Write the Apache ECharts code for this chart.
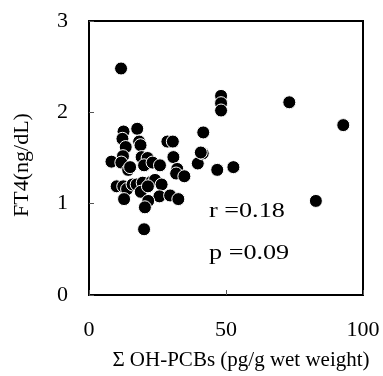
<!DOCTYPE html>
<html>
<head>
<meta charset="utf-8">
<script src="https://cdn.jsdelivr.net/npm/echarts@6/dist/echarts.min.js"></script>
<style>html,body{margin:0;padding:0;background:#fff}#c{width:383px;height:376px}</style>
</head>
<body>
<div id="c"></div>
<script>
const xValues = [11.7,12.6,17.6,12.2,13.4,18.3,18.8,28.6,30.6,41.7,8.2,12.4,11.8,14.3,19.2,21.4,20.1,23.2,25.9,30.8,32.2,31.8,34.8,39.7,41.5,40.8,10.1,12.5,13.9,15.9,17.4,19.6,18.9,22.8,24.1,26.5,25.7,29.6,32.6,12.8,21.6,20.4,20.1,48.2,48.2,48.2,73.1,92.8,46.8,52.7,82.8,15.0,21.5];
const yValues = [2.48,1.79,1.82,1.71,1.62,1.68,1.64,1.68,1.68,1.78,1.46,1.52,1.45,1.37,1.51,1.50,1.42,1.45,1.42,1.51,1.38,1.33,1.30,1.44,1.55,1.56,1.19,1.19,1.16,1.21,1.21,1.23,1.13,1.24,1.26,1.21,1.08,1.09,1.05,1.05,1.03,0.96,0.72,2.18,2.10,2.02,2.11,1.86,1.37,1.40,1.03,1.40,1.19];
const xTicks = [0, 50, 100];
const yTicks = [0, 1, 2, 3];
const xTitle = 'Σ OH-PCBs (pg/g wet weight)';
const yTitle = 'FT4(ng/dL)';
const statLines = ['r =0.18', 'p =0.09'];

const font = '"Liberation Serif", "Times New Roman", serif';
const points = xValues.map((x, i) => [x, yValues[i]]);
const chart = echarts.init(document.getElementById('c'));
chart.setOption({
  animation: false,
  grid: {left: 89, right: 20, top: 21, bottom: 79, show: true, borderColor: '#000', borderWidth: 2, backgroundColor: 'transparent'},
  xAxis: {
    type: 'value', min: xTicks[0], max: xTicks[xTicks.length - 1], interval: 50,
    axisLine: {show: false},
    axisTick: {show: true, inside: true, length: 5, lineStyle: {color: '#555', width: 1}},
    splitLine: {show: false},
    axisLabel: {margin: 24, fontFamily: font, fontSize: 22, color: '#000'},
    name: xTitle, nameLocation: 'middle', nameGap: 55,
    nameTextStyle: {fontFamily: font, fontSize: 21, color: '#000', padding: [0, 0, 0, 30]}
  },
  yAxis: {
    type: 'value', min: yTicks[0], max: yTicks[yTicks.length - 1], interval: 1,
    axisLine: {show: false},
    axisTick: {show: true, inside: true, length: 5, lineStyle: {color: '#555', width: 1}},
    splitLine: {show: false},
    axisLabel: {margin: 21, fontFamily: font, fontSize: 22, color: '#000'},
    name: yTitle, nameLocation: 'middle', nameGap: 56, nameRotate: 90,
    nameTextStyle: {fontFamily: font, fontSize: 22, color: '#000', padding: [0, 14, 0, 0]}
  },
  graphic: [
    {type: 'text', left: 209, top: 200, scaleX: 1.19, style: {text: statLines[0], font: '22px ' + font, fill: '#000'}},
    {type: 'text', left: 209, top: 242, scaleX: 1.19, style: {text: statLines[1], font: '22px ' + font, fill: '#000'}}
  ],
  series: [{
    type: 'scatter', data: points, symbol: 'circle', symbolSize: 13,
    itemStyle: {color: '#000', borderColor: '#fff', borderWidth: 1, opacity: 1}
  }]
});
</script>
</body>
</html>
